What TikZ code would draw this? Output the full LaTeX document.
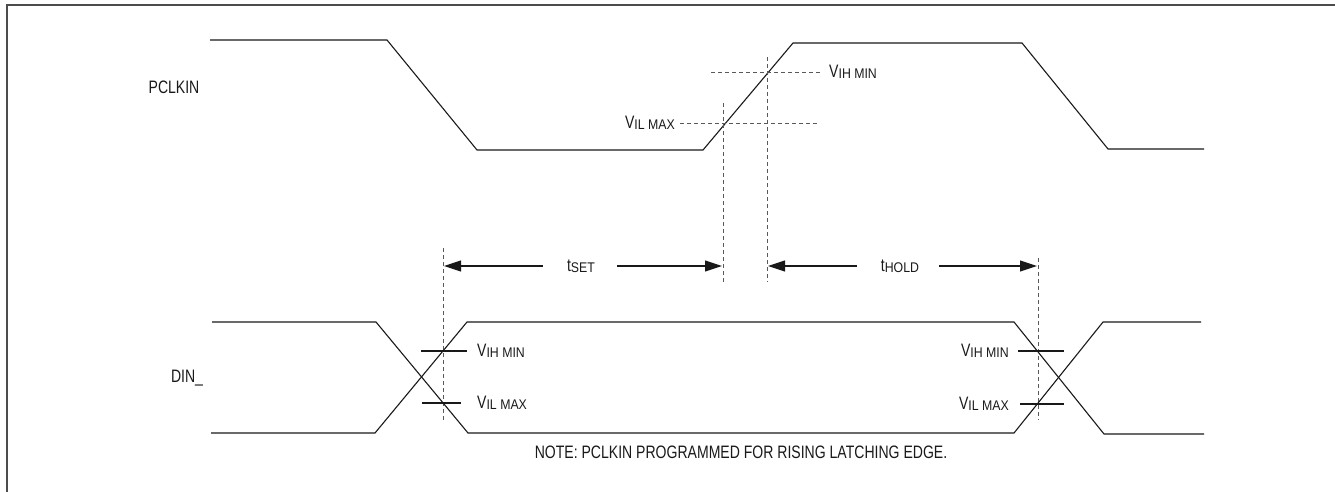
\documentclass[tikz,border=0pt]{standalone}
\usepackage{fontspec}
\setmainfont[FakeStretch=0.78]{Liberation Sans}
\newfontfamily\subfont[FakeStretch=0.88]{Liberation Sans}
\usetikzlibrary{arrows.meta}
\newcommand\lsub[1]{\raisebox{-1.5pt}{\subfont\fontsize{14}{15}\selectfont #1}}
\begin{document}
\begin{tikzpicture}[x=1pt,y=-1pt,
  sig/.style={draw=black!90, line width=1.1pt, line join=miter},
  dsh/.style={draw=black!65, line width=0.9pt, dash pattern=on 4pt off 3pt},
  tick/.style={draw=black!90, line width=1.1pt},
  arr/.style={draw=black!90, line width=1.1pt, -{Triangle[length=17pt,width=11pt]}},
  lbl/.style={inner sep=0pt, font=\fontsize{18}{20}\selectfont, text=black!90},
  frame/.style={draw=black!70, line width=2pt}]
\useasboundingbox (0,0) rectangle (1335,492);
% frame (top and left edges visible)
\coordinate (fbl) at (7,492);
\coordinate (ftl) at (7,5);
\coordinate (ftr) at (1335,5);
\draw[frame] (fbl) -- (ftl) -- (ftr);

% labels
\node[lbl] (pclk) at (174,87) {PCLKIN};
\node[lbl] (din) at (187,378) {DIN\_};

% PCLKIN waveform
\draw[sig] (210,40) -- (387,40) -- (477,150) -- (703,150) -- (793,43) -- (1022,43) -- (1108,149) -- (1204,149);

% thresholds on PCLKIN
\coordinate (vila) at (680,123);
\coordinate (vilb) at (818,123);
\coordinate (viha) at (711,72);
\coordinate (vihb) at (820,72);
\draw[dsh] (vila) -- (vilb);
\draw[dsh] (viha) -- (vihb);
\node[lbl, anchor=east] (vilt) at (675,123) {V\lsub{IL MAX}};
\node[lbl, anchor=west] (viht) at (829,72) {V\lsub{IH MIN}};

% vertical dashed lines
\coordinate (d1a) at (723,103); \coordinate (d1b) at (723,282);
\coordinate (d2a) at (767,57);  \coordinate (d2b) at (767,282);
\coordinate (d3a) at (443,248); \coordinate (d3b) at (443,422);
\coordinate (d4a) at (1038,258); \coordinate (d4b) at (1038,420);
\draw[dsh] (d1a) -- (d1b);
\draw[dsh] (d2a) -- (d2b);
\draw[dsh] (d3a) -- (d3b);
\draw[dsh] (d4a) -- (d4b);

% timing arrows
\node[lbl] (tset) at (581,266) {t\lsub{SET}};
\node[lbl] (thold) at (900,266) {t\lsub{HOLD}};
\coordinate (a1) at (444,266);
\coordinate (a2) at (722,266);
\coordinate (a3) at (768,266);
\coordinate (a4) at (1037,266);
\draw[arr] ([xshift=-24pt]tset.west |- a1) -- (a1);
\draw[arr] ([xshift=22pt]tset.east |- a2) -- (a2);
\draw[arr] ([xshift=-24pt]thold.west |- a3) -- (a3);
\draw[arr] ([xshift=20pt]thold.east |- a4) -- (a4);

% DIN waveform
\draw[sig] (212,322) -- (376,322) -- (468,433) -- (1014,433) -- (1103,322) -- (1201,322);
\draw[sig] (211,433) -- (375,433) -- (467,322) -- (1014,322) -- (1104,434) -- (1204,434);

% DIN threshold ticks
\coordinate (t1a) at (421,351); \coordinate (t1b) at (467,351);
\coordinate (t2a) at (422,403); \coordinate (t2b) at (461,403);
\coordinate (t3a) at (1018,351); \coordinate (t3b) at (1064,351);
\coordinate (t4a) at (1020,404); \coordinate (t4b) at (1064,404);
\draw[tick] (t1a) -- (t1b);
\draw[tick] (t2a) -- (t2b);
\draw[tick] (t3a) -- (t3b);
\draw[tick] (t4a) -- (t4b);
\node[lbl, anchor=west] (lvih) at (477,351) {V\lsub{IH MIN}};
\node[lbl, anchor=west] (lvil) at (477,403) {V\lsub{IL MAX}};
\node[lbl, anchor=east] (rvih) at (1009,351) {V\lsub{IH MIN}};
\node[lbl, anchor=east] (rvil) at (1009,404) {V\lsub{IL MAX}};

% note
\node[lbl] (note) at (741,452) {NOTE: PCLKIN PROGRAMMED FOR RISING LATCHING EDGE.};
\end{tikzpicture}
\end{document}
